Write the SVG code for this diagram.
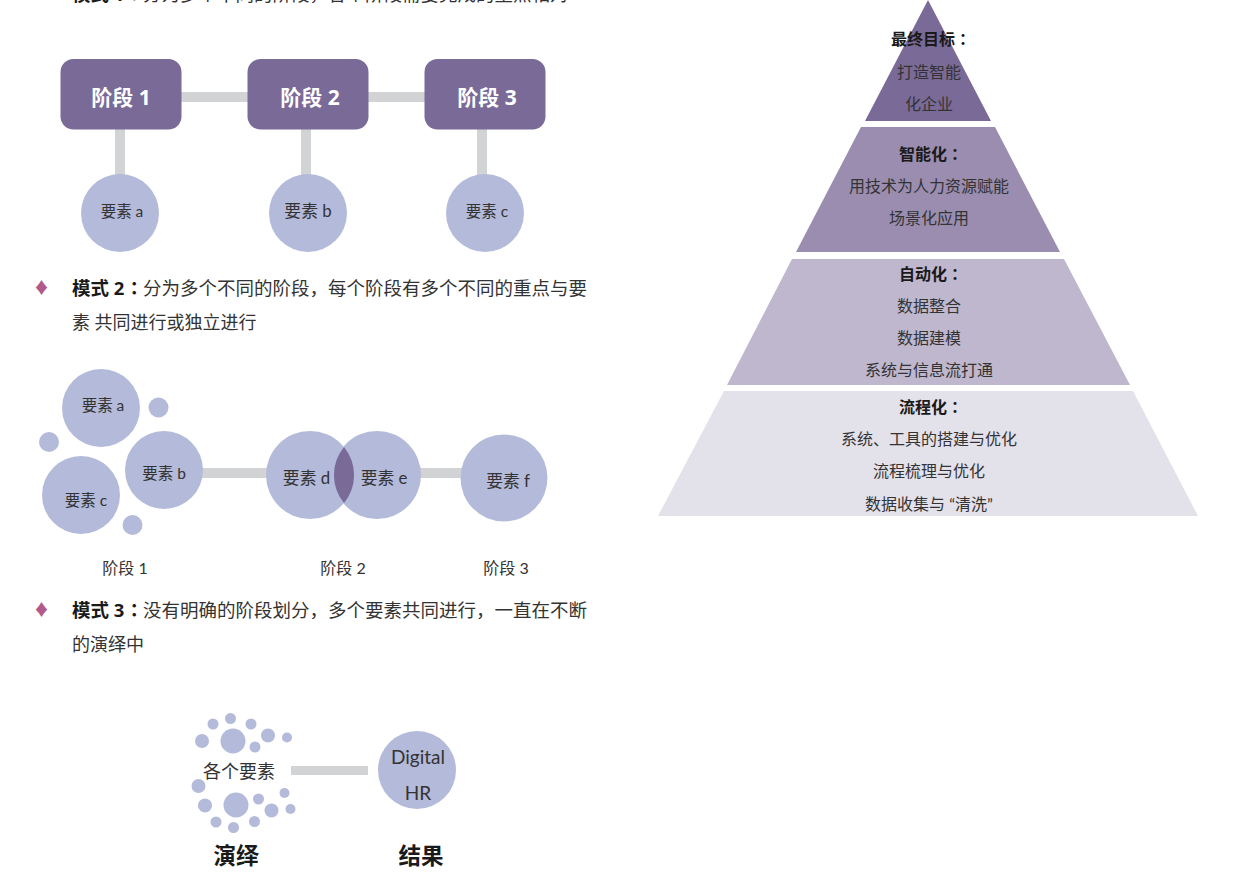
<svg xmlns="http://www.w3.org/2000/svg" width="1248" height="882" viewBox="0 0 1248 882">
<style>
text{font-family:Lato,"Noto Sans CJK SC",sans-serif;fill:#333}
.b{font-weight:700;fill:#1a1a1a;font-family:"Open Sans","Noto Sans CJK SC",sans-serif}
.col{font-family:"Noto Sans CJK TC",sans-serif;font-weight:700;fill:#1a1a1a}
.p{font-size:18.500px}
.q{font-size:18px}
.m{font-size:16px;text-anchor:middle}
.s{font-size:15.500px;text-anchor:middle}
.l{font-size:16.800px;text-anchor:middle}
.r{font-size:19px;text-anchor:middle}
.w{font-size:21px;font-weight:700;fill:#fff;text-anchor:middle;font-family:"Noto Sans","Noto Sans CJK SC",sans-serif}
.h{font-size:22.500px;font-weight:700;fill:#1a1a1a;text-anchor:middle;font-family:"Noto Sans CJK SC",sans-serif}
.c{fill:#b4bada}
.box{fill:#7a6a98}
.line{fill:#d2d3d5}
.d{fill:#b0598a;font-size:16px;font-family:"Noto Sans CJK SC",sans-serif}
</style>
<g id="intro1"><text class="p" y="1"><tspan class="b" x="72">模式 1</tspan><tspan class="col" x="125">：</tspan><tspan x="143">分为多个不同的阶段，各个阶段需要完成的重点相对</tspan></text></g>
<g id="connectors">
<rect class="line" x="180" y="92" width="70" height="10"/>
<rect class="line" x="366" y="92" width="60" height="10"/>
<rect class="line" x="115" y="128" width="10" height="48"/>
<rect class="line" x="301" y="128" width="10" height="48"/>
<rect class="line" x="477" y="128" width="10" height="48"/>
<rect class="line" x="200" y="468" width="70" height="10"/>
<rect class="line" x="418" y="468" width="46" height="10"/>
<rect class="line" x="291" y="766" width="77" height="9"/>
</g>
<g id="stage1"><rect class="box" x="60.500" y="59" width="121" height="70.500" rx="13"/><text class="w" x="121" y="105">阶段 1</text></g>
<g id="stage2"><rect class="box" x="247.500" y="59" width="121" height="70.500" rx="13"/><text class="w" x="310" y="105">阶段 2</text></g>
<g id="stage3"><rect class="box" x="424.500" y="59" width="121" height="70.500" rx="13"/><text class="w" x="487" y="105">阶段 3</text></g>
<g id="m1a"><circle class="c" cx="120" cy="213" r="39"/><text class="s" x="122" y="217">要素 a</text></g>
<g id="m1b"><circle class="c" cx="308" cy="213" r="39"/><text class="l" x="308" y="217">要素 b</text></g>
<g id="m1c"><circle class="c" cx="485" cy="213" r="39"/><text class="s" x="487" y="217">要素 c</text></g>
<g id="intro2"><text class="d" x="33.500" y="293">♦</text><text class="p" y="295"><tspan class="b" x="72">模式 2</tspan><tspan class="col" x="125">：</tspan><tspan x="143">分为多个不同的阶段，每个阶段有多个不同的重点与要</tspan></text><text class="q" x="72" y="329">素 共同进行或独立进行</text></g>
<g id="m2a"><circle class="c" cx="101" cy="408" r="39"/><text class="s" x="103" y="411">要素 a</text></g>
<g id="m2b"><circle class="c" cx="164" cy="470" r="39"/><text class="s" x="164" y="479">要素 b</text></g>
<g id="m2c"><circle class="c" cx="81" cy="495" r="39"/><text class="s" x="86" y="506">要素 c</text></g>
<g id="dots2"><circle class="c" cx="158.500" cy="407.500" r="10"/><circle class="c" cx="49" cy="442" r="10"/><circle class="c" cx="132.500" cy="525" r="10"/></g>
<g id="m2d"><circle class="c" cx="310" cy="475" r="44"/><text class="l" x="306.500" y="484">要素 d</text></g>
<g id="m2e"><circle class="c" cx="377" cy="475" r="44"/><path d="M344 447A44 44 0 0 1 344 503A44 44 0 0 1 344 447Z" fill="#7a6a98"/><text class="l" x="384" y="484">要素 e</text></g>
<g id="m2f"><circle class="c" cx="504" cy="478" r="43.500"/><text class="l" x="508" y="487">要素 f</text></g>
<g id="labels2"><text class="m" x="125" y="574">阶段 1</text><text class="m" x="343" y="574">阶段 2</text><text class="m" x="506" y="574">阶段 3</text></g>
<g id="intro3"><text class="d" x="33.500" y="615">♦</text><text class="p" y="617"><tspan class="b" x="72">模式 3</tspan><tspan class="col" x="125">：</tspan><tspan x="143">没有明确的阶段划分，多个要素共同进行，一直在不断</tspan></text><text class="q" x="72" y="651">的演绎中</text></g>
<g id="dots3">
<circle class="c" cx="233" cy="741" r="12.500"/><circle class="c" cx="202" cy="741" r="7"/><circle class="c" cx="213" cy="724" r="5.500"/><circle class="c" cx="230.500" cy="718.500" r="5.500"/><circle class="c" cx="251" cy="724" r="5.500"/><circle class="c" cx="268" cy="735.500" r="7"/><circle class="c" cx="287" cy="737.500" r="5"/><circle class="c" cx="255" cy="747" r="5.500"/>
<circle class="c" cx="236" cy="805" r="12.500"/><circle class="c" cx="198.500" cy="786" r="7"/><circle class="c" cx="205" cy="805.500" r="7"/><circle class="c" cx="216" cy="822" r="5.500"/><circle class="c" cx="233.500" cy="827.500" r="5.500"/><circle class="c" cx="254.500" cy="821.500" r="5.500"/><circle class="c" cx="271.500" cy="810.500" r="7"/><circle class="c" cx="290.500" cy="809" r="5"/><circle class="c" cx="258.500" cy="799" r="5.500"/><circle class="c" cx="284.500" cy="793" r="5"/>
<text x="239" y="778" style="font-size:18px;text-anchor:middle">各个要素</text></g>
<g id="result"><circle class="c" cx="417" cy="770" r="39"/><text class="r" x="418" y="764">Digital</text><text class="r" x="418" y="800">HR</text></g>
<g id="titles"><text class="h" x="236" y="864">演绎</text><text class="h" x="421" y="864">结果</text></g>
<g id="pyr1"><polygon points="928,0 991,121 865,121" fill="#7a6a98"/><text class="m" x="931" y="45"><tspan class="b">最终目标</tspan><tspan class="col">：</tspan></text><text class="m" x="929" y="78">打造智能</text><text class="m" x="929" y="110">化企业</text></g>
<g id="pyr2"><polygon points="861,127 995,127 1060,252 796,252" fill="#9a8db0"/><text class="m" x="931" y="160"><tspan class="b">智能化</tspan><tspan class="col">：</tspan></text><text class="m" x="929" y="192">用技术为人力资源赋能</text><text class="m" x="929" y="224">场景化应用</text></g>
<g id="pyr3"><polygon points="792,259 1064,259 1130,385 727,385" fill="#beb7cd"/><text class="m" x="931" y="280"><tspan class="b">自动化</tspan><tspan class="col">：</tspan></text><text class="m" x="929" y="312">数据整合</text><text class="m" x="929" y="344">数据建模</text><text class="m" x="929" y="376">系统与信息流打通</text></g>
<g id="pyr4"><polygon points="724,391 1133,391 1198,516 658,516" fill="#e3e1ea"/><text class="m" x="931" y="413"><tspan class="b">流程化</tspan><tspan class="col">：</tspan></text><text class="m" x="929" y="445">系统、工具的搭建与优化</text><text class="m" x="929" y="477">流程梳理与优化</text><text class="m" x="929" y="510">数据收集与 “清洗”</text></g>
</svg>
